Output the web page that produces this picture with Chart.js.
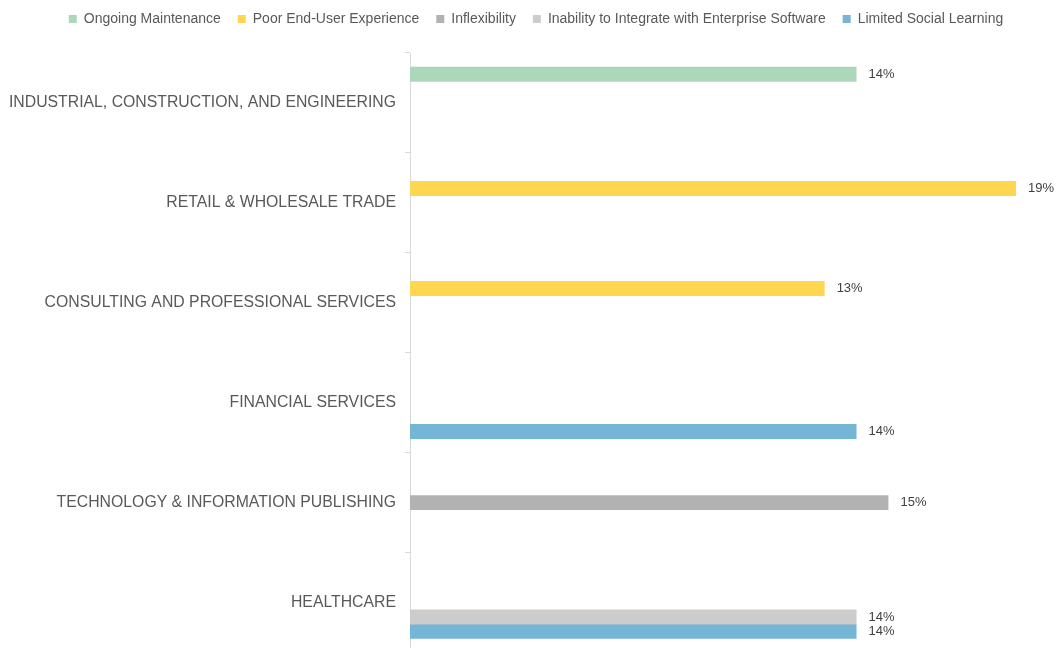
<!DOCTYPE html>
<html>
<head>
<meta charset="utf-8">
<script src="https://cdn.jsdelivr.net/npm/chart.js@4.4.1/dist/chart.umd.min.js"></script>
<style>
  html, body { margin: 0; padding: 0; background: #fff; overflow: hidden; }
  #wrap { width: 1062px; height: 671px; position: relative; }
</style>
</head>
<body>
<div id="wrap"><canvas id="chart"></canvas></div>
<script>
// Chart data
const categories = [
    'INDUSTRIAL, CONSTRUCTION, AND ENGINEERING',
    'RETAIL & WHOLESALE TRADE',
    'CONSULTING AND PROFESSIONAL SERVICES',
    'FINANCIAL SERVICES',
    'TECHNOLOGY & INFORMATION PUBLISHING',
    'HEALTHCARE'
];
const seriesNames = [
    'Ongoing Maintenance',
    'Poor End-User Experience',
    'Inflexibility',
    'Inability to Integrate with Enterprise Software',
    'Limited Social Learning'
];
const ongoingMaintenance = [14, null, null, null, null, null];
const poorUserExperience = [null, 19, 13, null, null, null];
const inflexibility      = [null, null, null, null, 15, null];
const inabilityIntegrate = [null, null, null, null, null, 14];
const limitedSocial      = [null, null, null, 14, null, 14];
const seriesColors = ['#ADD7BA', '#FFD650', '#B2B2B2', '#CCCCCC', '#75B5D6'];

const allSeries = [ongoingMaintenance, poorUserExperience, inflexibility, inabilityIntegrate, limitedSocial];

// Value labels at the end of each bar
const valueLabels = {
    id: 'valueLabels',
    afterDatasetsDraw(chart) {
        const ctx = chart.ctx;
        ctx.save();
        ctx.font = '13px "Liberation Sans", Arial, sans-serif';
        ctx.fillStyle = '#404040';
        ctx.textAlign = 'left';
        ctx.textBaseline = 'middle';
        chart.data.datasets.forEach((ds, i) => {
            const meta = chart.getDatasetMeta(i);
            meta.data.forEach((bar, j) => {
                if (ds.data[j] == null) return;
                ctx.fillText(ds.data[j] + '%', bar.x + 12, bar.y);
            });
        });
        ctx.restore();
    }
};

// Fixed legend height so the plot starts where it should,
// and nudge the legend so it is centred over the whole page
const legendTweak = {
    id: 'legendTweak',
    beforeInit(chart) {
        const legend = chart.legend;
        const fit = legend.fit;
        legend.fit = function() {
            fit.bind(legend)();
            this.height = 57;
        };
        const draw = legend.draw;
        legend.draw = function() {
            const c = chart.ctx;
            c.save();
            c.translate(28, -1);
            draw.apply(legend, arguments);
            c.restore();
        };
    }
};

document.addEventListener('DOMContentLoaded', function() {
    const ctx = document.getElementById('chart').getContext('2d');
    Chart.defaults.font.family = '"Liberation Sans", Arial, sans-serif';
    Chart.defaults.color = '#595959';

    new Chart(ctx, {
        type: 'bar',
        data: {
            labels: categories,
            datasets: allSeries.map((data, i) => ({
                label: seriesNames[i],
                data: data,
                backgroundColor: seriesColors[i],
                borderWidth: 0,
                categoryPercentage: 0.72,
                barPercentage: 1.04
            }))
        },
        plugins: [valueLabels, legendTweak],
        options: {
            indexAxis: 'y',
            responsive: true,
            maintainAspectRatio: false,
            animation: false,
            layout: { padding: { left: 0, right: 46, top: -4, bottom: 0 } },
            plugins: {
                legend: {
                    position: 'top',
                    labels: {
                        boxWidth: 8,
                        boxHeight: 8,
                        padding: 17,
                        color: '#595959',
                        font: { size: 14 }
                    }
                },
                tooltip: { enabled: false }
            },
            scales: {
                x: {
                    display: false,
                    min: 0,
                    max: 19
                },
                y: {
                    afterFit(scale) { scale.width = 410; },
                    border: { display: true, color: '#D9D9D9', width: 1 },
                    grid: {
                        drawOnChartArea: false,
                        drawTicks: true,
                        tickLength: 5,
                        color: '#D9D9D9',
                        offset: true
                    },
                    ticks: {
                        color: '#595959',
                        padding: 9,
                        font: { size: 15.8 }
                    }
                }
            }
        }
    });
});
</script>
</body>
</html>
